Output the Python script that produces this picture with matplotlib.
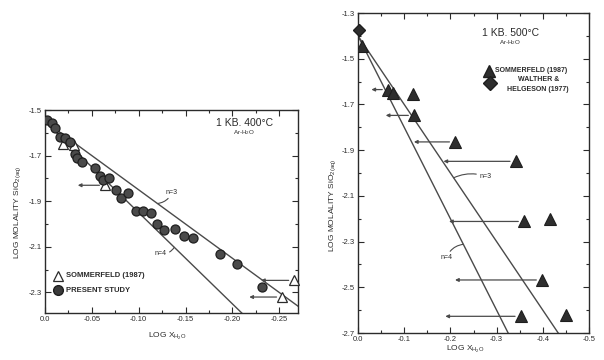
import numpy as np
import matplotlib
matplotlib.use("Agg")
import matplotlib.pyplot as plt
from matplotlib.ticker import MultipleLocator, FixedLocator

plt.rcParams['font.family'] = ['Liberation Sans', 'DejaVu Sans']
plt.rcParams['mathtext.default'] = 'regular'

# ---------------- data: left panel (1 kb, 400 C) ----------------
L_circ_x = [-0.0025, -0.007, -0.011, -0.016, -0.021, -0.027, -0.032, -0.034, -0.039,
            -0.053, -0.059, -0.062, -0.068, -0.0755, -0.0816, -0.0887, -0.0975, -0.105,
            -0.1135, -0.119, -0.1266, -0.139, -0.148, -0.158, -0.187, -0.2046, -0.2316]
L_circ_y = [-1.544, -1.559, -1.578, -1.617, -1.624, -1.639, -1.695, -1.712, -1.727,
            -1.754, -1.790, -1.805, -1.797, -1.852, -1.885, -1.866, -1.944, -1.944,
            -1.950, -1.998, -2.025, -2.020, -2.052, -2.060, -2.133, -2.177, -2.277]
L_tri_x = [-0.019, -0.031, -0.064, -0.266, -0.253]
L_tri_y = [-1.650, -1.655, -1.830, -2.247, -2.320]
L_arrow_to = [None, None, -0.035, -0.2305, -0.218]
L_intercept = -1.55
L_slopes = [3, 4]

# ---------------- data: right panel (1 kb, 500 C) ----------------
R_tri_x = [-0.008, -0.0645, -0.075, -0.118, -0.121, -0.21, -0.341, -0.359, -0.416,
           -0.398, -0.352, -0.451]
R_tri_y = [-1.446, -1.635, -1.652, -1.653, -1.748, -1.864, -1.949, -2.212, -2.200,
           -2.468, -2.627, -2.623]
R_arrow_to = [None, -0.029, None, None, -0.06, -0.121, -0.185, -0.197, None,
              -0.21, -0.189, None]
R_dia_x = [-0.003]
R_dia_y = [-1.375]
R_intercept = -1.40
R_slopes = [3, 4]

L_xticks = [0.0, -0.05, -0.10, -0.15, -0.20, -0.25]
L_xticklabels = ['0.0', '-0.05', '-0.10', '-0.15', '-0.20', '-0.25']
L_yticks = [-1.5, -1.7, -1.9, -2.1, -2.3]
R_xticks = [0.0, -0.1, -0.2, -0.3, -0.4, -0.5]
R_xticklabels = ['0.0', '-0.1', '-0.2', '-0.3', '-0.4', '-0.5']
R_yticks = [-1.3, -1.5, -1.7, -1.9, -2.1, -2.3, -2.5, -2.7]

INK = '#2b2b2b'
LINE = '#4a4a4a'

fig = plt.figure(figsize=(6.04, 3.6), dpi=100)
fig.patch.set_facecolor('white')

axL = fig.add_axes([45/604, 1-313/360, 253/604, 203/360])
axR = fig.add_axes([358/604, 1-333/360, 231/604, 320/360])


def style(ax, xmajor, xminor, ymajor, yminor):
    for s in ax.spines.values():
        s.set_color(INK)
        s.set_linewidth(1.0)
    ax.xaxis.set_major_locator(FixedLocator(xmajor))
    ax.xaxis.set_minor_locator(MultipleLocator(xminor))
    ax.yaxis.set_major_locator(FixedLocator(ymajor))
    ax.yaxis.set_minor_locator(MultipleLocator(yminor))
    ax.tick_params(which='both', direction='in', top=True, right=True, colors=INK,
                   labelsize=5.5, pad=2)
    ax.tick_params(which='major', length=4, width=0.8)
    ax.tick_params(which='minor', length=2.5, width=0.8)


def draw_arrow(ax, x0, x1, y):
    ax.annotate('', xy=(x1, y), xytext=(x0, y),
                arrowprops=dict(arrowstyle='-|>', color=LINE, lw=0.9,
                                mutation_scale=5, shrinkA=4, shrinkB=0))

# ---------------- left panel ----------------
axL.set_xlim(0, -0.27)
axL.set_ylim(-2.39, -1.5)
style(axL, L_xticks, 0.025, L_yticks, 0.1)
axL.set_xticklabels(L_xticklabels)
axL.set_yticklabels([f'{v:.1f}' for v in L_yticks])

xx = np.linspace(0, -0.27, 50)
for n in L_slopes:
    axL.plot(xx, L_intercept + n * xx, color=LINE, lw=1.0, zorder=1)

for x0, y0, xe in zip(L_tri_x, L_tri_y, L_arrow_to):
    if xe is not None:
        draw_arrow(axL, x0, xe, y0)
axL.plot(L_tri_x, L_tri_y, linestyle='none', marker='^', ms=7.5, mfc='white',
         mec=INK, mew=0.9, zorder=3, clip_on=False)
axL.plot(L_circ_x, L_circ_y, linestyle='none', marker='o', ms=6.5, mfc='#4a4a4a',
         mec='#1e1e1e', mew=0.9, zorder=4)

axL.text(-0.2128, -1.557, '1 KB. 400°C', ha='center', va='center', fontsize=7.5, color=INK)
axL.text(-0.2128, -1.597, 'Ar-H$_2$O', ha='center', va='center', fontsize=4.5, color=INK)

axL.plot([-0.0138], [-2.226], marker='^', ms=7.5, mfc='white', mec=INK, mew=0.9, ls='none')
axL.text(-0.0225, -2.226, 'SOMMERFELD (1987)', ha='left', va='center', fontsize=5.5,
         color=INK, fontweight='bold')
axL.plot([-0.0138], [-2.291], marker='o', ms=7, mfc='#3a3a3a', mec='#1e1e1e', ls='none')
axL.text(-0.0225, -2.291, 'PRESENT STUDY', ha='left', va='center', fontsize=5.5,
         color=INK, fontweight='bold')

xa = -0.120
axL.annotate('n=3', xy=(xa, L_intercept + 3 * xa), xytext=(-0.129, -1.86),
             fontsize=5, color=INK, ha='left', va='center',
             arrowprops=dict(arrowstyle='-', color=LINE, lw=0.8, shrinkA=0, shrinkB=0,
                             connectionstyle='arc3,rad=-0.3'))
xb = -0.138
axL.annotate('n=4', xy=(xb, L_intercept + 4 * xb), xytext=(-0.130, -2.13),
             fontsize=5, color=INK, ha='right', va='center',
             arrowprops=dict(arrowstyle='-', color=LINE, lw=0.8, shrinkA=0, shrinkB=0,
                             connectionstyle='arc3,rad=0.3'))

# ---------------- right panel ----------------
axR.set_xlim(0, -0.5)
axR.set_ylim(-2.7, -1.3)
style(axR, R_xticks, 0.05, R_yticks, 0.1)
axR.set_xticklabels(R_xticklabels)
axR.set_yticklabels([f'{v:.1f}' for v in R_yticks])

xr = np.linspace(0, -0.5, 50)
for n in R_slopes:
    axR.plot(xr, R_intercept + n * xr, color=LINE, lw=1.0, zorder=1)

for x0, y0, xe in zip(R_tri_x, R_tri_y, R_arrow_to):
    if xe is not None:
        draw_arrow(axR, x0, xe, y0)
axR.plot(R_tri_x, R_tri_y, linestyle='none', marker='^', ms=9, mfc='#2e2e2e',
         mec='#1e1e1e', mew=0.8, zorder=3)
axR.plot(R_dia_x, R_dia_y, linestyle='none', marker='D', ms=6.5, mfc='#2e2e2e',
         mec='#1e1e1e', zorder=3, clip_on=False)

axR.text(-0.33, -1.387, '1 KB. 500°C', ha='center', va='center', fontsize=7.5, color=INK)
axR.text(-0.33, -1.43, 'Ar-H$_2$O', ha='center', va='center', fontsize=4.5, color=INK)

axR.plot([-0.284], [-1.552], marker='^', ms=9, mfc='#2e2e2e', mec='#1e1e1e', ls='none')
axR.text(-0.297, -1.552, 'SOMMERFELD (1987)', ha='left', va='center', fontsize=5.0,
         color=INK, fontweight='bold')
axR.plot([-0.286], [-1.606], marker='D', ms=7, mfc='#2e2e2e', mec='#1e1e1e', ls='none')
axR.text(-0.39, -1.591, 'WALTHER &', ha='center', va='center', fontsize=5.0,
         color=INK, fontweight='bold')
axR.text(-0.39, -1.633, 'HELGESON (1977)', ha='center', va='center', fontsize=5.0,
         color=INK, fontweight='bold')

xc = -0.207
axR.annotate('n=3', xy=(xc, R_intercept + 3 * xc), xytext=(-0.262, -2.014),
             fontsize=5, color=INK, ha='left', va='center',
             arrowprops=dict(arrowstyle='-', color=LINE, lw=0.8, shrinkA=0, shrinkB=0,
                             connectionstyle='arc3,rad=0.2'))
xd = -0.228
axR.annotate('n=4', xy=(xd, R_intercept + 4 * xd), xytext=(-0.205, -2.37),
             fontsize=5, color=INK, ha='right', va='center',
             arrowprops=dict(arrowstyle='-', color=LINE, lw=0.8, shrinkA=0, shrinkB=0,
                             connectionstyle='arc3,rad=-0.3'))

# axis labels
fig.text(18/604, 1-212/360, 'LOG MOLALITY SiO$_{2(aq)}$', rotation=90, ha='center',
         va='center', fontsize=6, color=INK)
fig.text(167/604, 1-336/360, 'LOG X$_{H_2O}$', ha='center', va='center', fontsize=6, color=INK)
fig.text(333/604, 1-205/360, 'LOG MOLALITY SiO$_{2(aq)}$', rotation=90, ha='center',
         va='center', fontsize=6, color=INK)
fig.text(465/604, 1-349/360, 'LOG X$_{H_2O}$', ha='center', va='center', fontsize=6, color=INK)

fig.savefig('out.png', dpi=100, facecolor='white')
